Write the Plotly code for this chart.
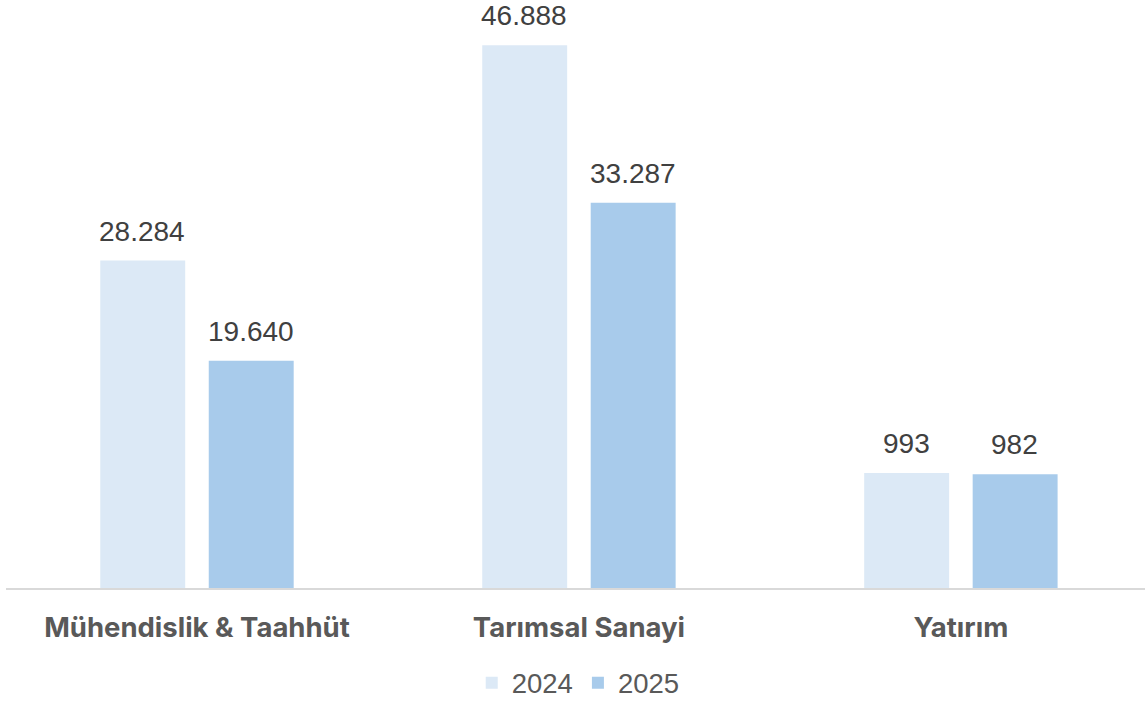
import plotly.graph_objects as go

categories = ["Mühendislik & Taahhüt", "Tarımsal Sanayi", "Yatırım"]
series_names = ["2024", "2025"]
# bar heights as drawn in the picture (Yatırım is drawn on an enlarged scale)
heights_2024 = [28284, 46888, 9930]
heights_2025 = [19640, 33287, 9820]
labels_2024 = ["28.284", "46.888", "993"]
labels_2025 = ["19.640", "33.287", "982"]
colors = ["#DCE9F6", "#A8CBEB"]

fig = go.Figure()
for name, h, col in zip(series_names, [heights_2024, heights_2025], colors):
    fig.add_trace(go.Bar(x=categories, y=h, name=name, marker=dict(color=col, line=dict(width=0)),
                         hoverinfo="skip"))

annotations = []
for shift, h, labs in [(-54.5, heights_2024, labels_2024), (54, heights_2025, labels_2025)]:
    for c, v, t in zip(categories, h, labs):
        annotations.append(dict(x=c, y=v, text=t, xref="x", yref="y", showarrow=False,
                                xshift=shift, yanchor="bottom", yshift=12,
                                font=dict(family="Liberation Sans, Arial", size=28, color="#404040")))

fig.update_layout(
    width=1145, height=701,
    margin=dict(l=6, r=0, t=20, b=113),
    paper_bgcolor="white", plot_bgcolor="white",
    barmode="group", bargap=0.432, bargroupgap=0.217,
    showlegend=True,
    legend=dict(orientation="h", xref="container", yref="container", x=0.505, y=0.026,
                xanchor="center", yanchor="middle", itemwidth=30,
                font=dict(family="Liberation Sans, Arial", size=27.5, color="#595959")),
    annotations=annotations,
    xaxis=dict(range=[-0.5, 2.482], showline=True, linecolor="#D9D9D9", linewidth=2,
               ticks="", showgrid=False, zeroline=False, ticklabelstandoff=14,
               tickfont=dict(family="Inter, sans-serif", size=27.5, color="#595959", weight="bold")),
    yaxis=dict(range=[0, 49071], visible=False, showgrid=False, zeroline=False),
)
fig.write_html("out.html", config={"displayModeBar": False},
               post_script="document.body.style.margin='0';document.body.style.overflow='hidden';")
